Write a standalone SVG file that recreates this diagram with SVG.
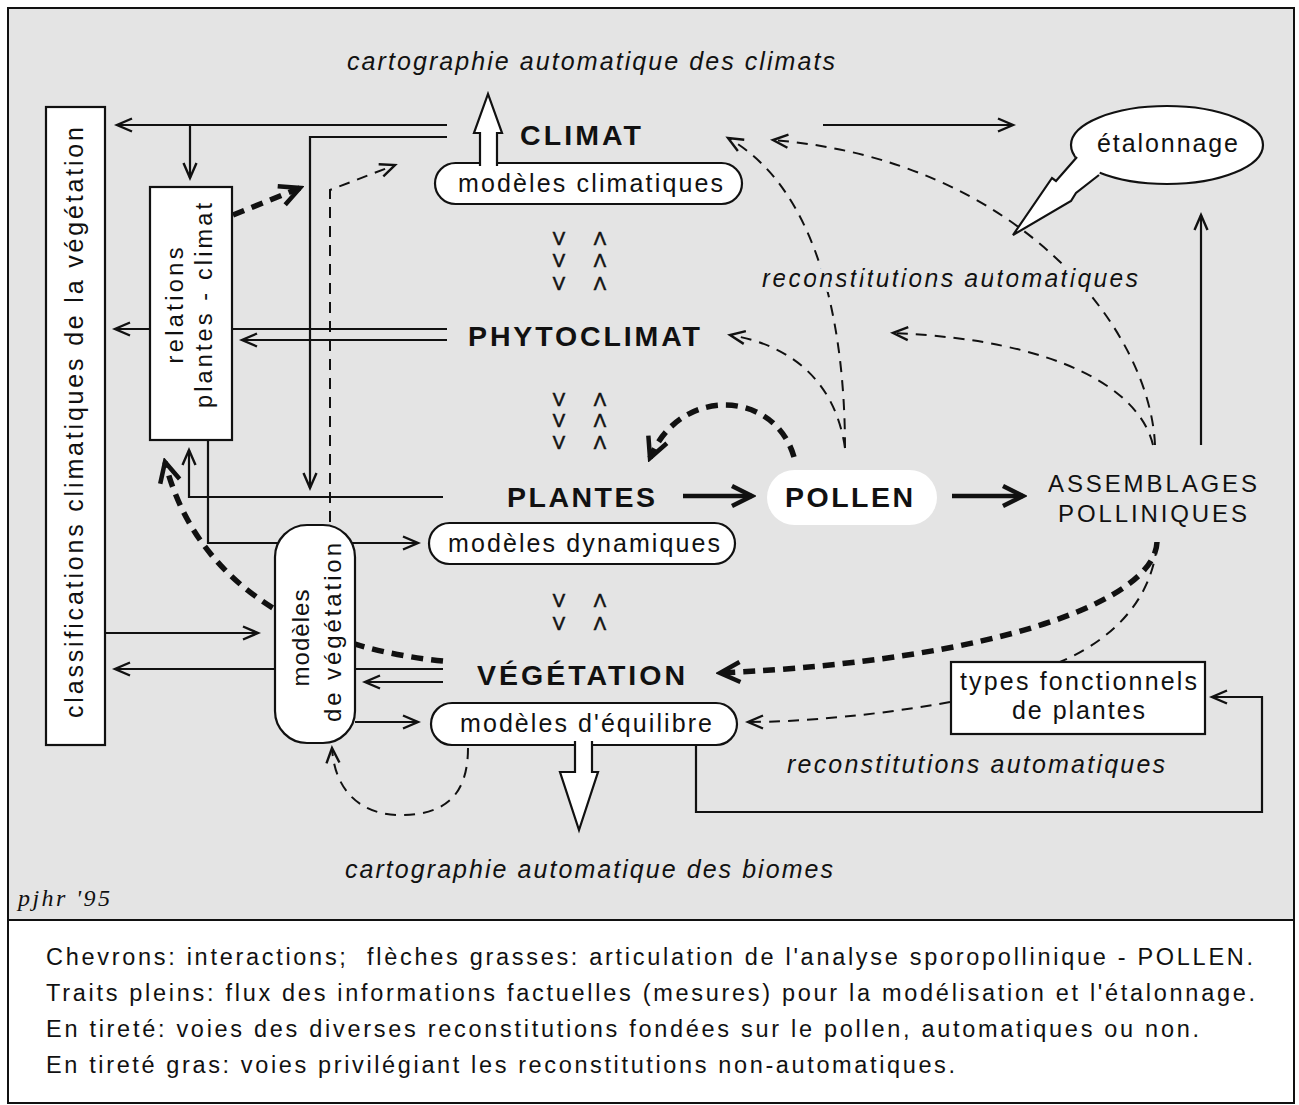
<svg xmlns="http://www.w3.org/2000/svg" width="1299" height="1105" viewBox="0 0 1299 1105">
<style>
 .t{font-family:"Liberation Sans",Arial,Helvetica,sans-serif;fill:#111}
 .b{font-weight:bold;font-size:28.5px}
 .r{font-size:25px}
 .i{font-style:italic;font-size:25px}
 .lg{font-size:23.5px}
 .ch{font-size:18.5px;stroke:#111;stroke-width:0.6}
 .box{fill:#fff;stroke:#111;stroke-width:2.2}
 .ln{fill:none;stroke:#111;stroke-width:2.2}
 .ds{fill:none;stroke:#111;stroke-width:2;stroke-dasharray:11 8}
 .hd{fill:none;stroke:#111;stroke-width:5.5;stroke-dasharray:12 8}
 .bd{fill:none;stroke:#111;stroke-width:4.5}
 .halo{paint-order:stroke;stroke:#e4e4e4;stroke-width:10px;stroke-linejoin:round}
</style>
<defs>
 <marker id="ah" viewBox="-20 -12 24 24" refX="0" refY="0" markerWidth="24" markerHeight="24" markerUnits="userSpaceOnUse" orient="auto"><path d="M-15,-6.5 L0,0 L-15,6.5" fill="none" stroke="#111" stroke-width="2.4"/></marker>
 <marker id="ahb" viewBox="-26 -14 30 28" refX="0" refY="0" markerWidth="30" markerHeight="28" markerUnits="userSpaceOnUse" orient="auto"><path d="M-20,-10 L0,0 L-20,10" fill="none" stroke="#111" stroke-width="4.5"/></marker>
</defs>

<!-- frame -->
<rect x="8" y="8" width="1286" height="912" fill="#e4e4e4"/>
<rect x="8" y="920" width="1286" height="183" fill="#fff"/>
<rect x="8" y="8" width="1286" height="1095" fill="none" stroke="#111" stroke-width="2"/>
<line x1="8" y1="920" x2="1294" y2="920" stroke="#111" stroke-width="2"/>

<g id="connectors">
 <!-- solid -->
 <path class="ln" d="M447,125 L117,125" marker-end="url(#ah)"/>
 <path class="ln" d="M190,125 L190,178" marker-end="url(#ah)"/>
 <path class="ln" d="M447,137 L310,137 L310,488" marker-end="url(#ah)"/>
 <path class="ln" d="M447,329 L232,329"/>
 <path class="ln" d="M150,329 L115,329" marker-end="url(#ah)"/>
 <path class="ln" d="M447,340 L242,340" marker-end="url(#ah)"/>
 <path class="ln" d="M443,497 L189,497 L189,450" marker-end="url(#ah)"/>
 <path class="ln" d="M208,440 L208,543 L418,543" marker-end="url(#ah)"/>
 <path class="ln" d="M105,633 L258,633" marker-end="url(#ah)"/>
 <path class="ln" d="M443,669 L115,669" marker-end="url(#ah)"/>
 <path class="ln" d="M443,682 L365,682" marker-end="url(#ah)"/>
 <path class="ln" d="M355,722 L418,722" marker-end="url(#ah)"/>
 <path class="ln" d="M823,125 L1013,125" marker-end="url(#ah)"/>
 <path class="ln" d="M1201,445 L1201,215" marker-end="url(#ah)"/>
 <path class="ln" d="M696,745 L696,812 L1262,812 L1262,697 L1212,697" marker-end="url(#ah)"/>
 <!-- bold solid -->
 <path class="bd" d="M683,496 L752,496" marker-end="url(#ahb)"/>
 <path class="bd" d="M952,496 L1023,496" marker-end="url(#ahb)"/>
 <!-- thin dashed -->
 <path class="ds" d="M330,522 L330,190 L395,165" marker-end="url(#ah)"/>
 <path class="ds" d="M845,448 C845,330 820,190 728,138" marker-end="url(#ah)"/>
 <path class="ds" d="M845,448 C835,380 790,345 730,335" marker-end="url(#ah)"/>
 <path class="ds" d="M1155,445 C1150,330 1020,160 773,140" marker-end="url(#ah)"/>
 <path class="ds" d="M1153,445 C1140,390 1060,340 893,333" marker-end="url(#ah)"/>
 <path class="ds" d="M1157,545 C1150,610 1100,645 1060,662"/>
 <path class="ds" d="M950,702 C880,715 800,722 748,722" marker-end="url(#ah)"/>
 <path class="ds" d="M468,748 C468,800 440,815 400,815 C365,815 335,795 332,748" marker-end="url(#ah)"/>
 <!-- heavy dashed -->
 <path class="hd" d="M233,215 L300,188" marker-end="url(#ahb)"/>
 <path class="hd" d="M794,457 C775,390 680,385 650,458" marker-end="url(#ahb)"/>
 <path class="hd" d="M443,661 C330,650 200,600 165,462" marker-end="url(#ahb)"/>
 <path class="hd" d="M1157,542 C1155,600 1000,660 720,673" marker-end="url(#ahb)"/>
</g>

<g id="node-classifications">
 <rect class="box" x="46" y="107" width="59" height="638"/>
 <text class="t r" style="font-size:25px" transform="translate(83,422.5) rotate(-90)" text-anchor="middle" textLength="591" lengthAdjust="spacing">classifications climatiques de la végétation</text>
</g>

<g id="node-relations">
 <rect class="box" x="150" y="187" width="82" height="253"/>
 <text class="t r" style="font-size:23.5px" transform="translate(183,305.5) rotate(-90)" text-anchor="middle" textLength="116" lengthAdjust="spacing">relations</text>
 <text class="t r" style="font-size:23.5px" transform="translate(212,305.5) rotate(-90)" text-anchor="middle" textLength="205" lengthAdjust="spacing">plantes - climat</text>
</g>

<g id="node-modeles-vegetation">
 <rect class="box" x="275" y="525" width="80" height="218" rx="32"/>
 <text class="t r" style="font-size:24px" transform="translate(309,638) rotate(-90)" text-anchor="middle" textLength="97" lengthAdjust="spacing">modèles</text>
 <text class="t r" style="font-size:24px" transform="translate(341,632.5) rotate(-90)" text-anchor="middle" textLength="179" lengthAdjust="spacing">de végétation</text>
</g>

<g id="node-climat">
 <text class="t i" x="591" y="70" text-anchor="middle" textLength="488" lengthAdjust="spacing">cartographie automatique des climats</text>
 <text class="t b" x="580.5" y="145" text-anchor="middle" textLength="121" lengthAdjust="spacing">CLIMAT</text>
 <rect class="box" x="435" y="163" width="307" height="41" rx="20.5"/>
 <path d="M480,166 L480,133 L474,133 L488,94 L502,133 L497,133 L497,166" fill="#fff" stroke="#111" stroke-width="2.2"/>
 <text class="t r" x="590.5" y="192" text-anchor="middle" textLength="265" lengthAdjust="spacing">modèles climatiques</text>
</g>

<g id="chevrons" class="t ch" text-anchor="middle">
 <text x="559" y="245">V</text><text x="600" y="245">Λ</text>
 <text x="559" y="267">V</text><text x="600" y="267">Λ</text>
 <text x="559" y="290">V</text><text x="600" y="290">Λ</text>
 <text x="559" y="406">V</text><text x="600" y="406">Λ</text>
 <text x="559" y="427">V</text><text x="600" y="427">Λ</text>
 <text x="559" y="449">V</text><text x="600" y="449">Λ</text>
 <text x="559" y="607">V</text><text x="600" y="607">Λ</text>
 <text x="559" y="630">V</text><text x="600" y="630">Λ</text>
</g>

<g id="node-phytoclimat">
 <text class="t b" x="584" y="346" text-anchor="middle" textLength="232" lengthAdjust="spacing">PHYTOCLIMAT</text>
</g>

<g id="node-plantes">
 <text class="t b" x="581" y="507" text-anchor="middle" textLength="148" lengthAdjust="spacing">PLANTES</text>
 <rect class="box" x="429" y="523" width="306" height="41" rx="20.5"/>
 <text class="t r" x="584" y="552" text-anchor="middle" textLength="272" lengthAdjust="spacing">modèles dynamiques</text>
</g>

<g id="node-pollen">
 <rect x="767" y="470" width="170" height="55" rx="27.5" fill="#fff"/>
 <text class="t b" x="849" y="507" text-anchor="middle" textLength="128" lengthAdjust="spacing">POLLEN</text>
</g>

<g id="node-assemblages">
 <text class="t" style="font-size:24px" x="1152.5" y="492" text-anchor="middle" textLength="209" lengthAdjust="spacing">ASSEMBLAGES</text>
 <text class="t" style="font-size:24px" x="1152.5" y="522" text-anchor="middle" textLength="189" lengthAdjust="spacing">POLLINIQUES</text>
</g>

<g id="node-etalonnage">
 <ellipse cx="1167" cy="145" rx="96" ry="39" fill="#fff" stroke="#111" stroke-width="2.2"/>
 <path d="M1074,148 L1076,157 L1056,181 L1052,178 L1013,235 L1071,201 L1076,193 L1099,175 L1102,165 Z" fill="#fff"/>
 <path d="M1077,157 L1056,181 L1052,178 L1013,235 L1071,201 L1076,193 L1099,175" fill="none" stroke="#111" stroke-width="2.2"/>
 <text class="t r" x="1167.5" y="152" text-anchor="middle" textLength="141" lengthAdjust="spacing">étalonnage</text>
</g>

<text class="t i halo" x="950" y="287" text-anchor="middle" textLength="376" lengthAdjust="spacing">reconstitutions automatiques</text>

<g id="node-vegetation">
 <text class="t b" x="581" y="685" text-anchor="middle" textLength="208" lengthAdjust="spacing">VÉGÉTATION</text>
 <rect class="box" x="431" y="703" width="306" height="42" rx="21"/>
 <path d="M575,741 L575,772 L560,772 L579,830 L598,772 L592,772 L592,741" fill="#fff" stroke="#111" stroke-width="2.2"/>
 <text class="t r" x="586" y="732" text-anchor="middle" textLength="252" lengthAdjust="spacing">modèles d'équilibre</text>
 <text class="t i" x="589" y="878" text-anchor="middle" textLength="488" lengthAdjust="spacing">cartographie automatique des biomes</text>
</g>

<g id="node-types">
 <rect class="box" x="951" y="662" width="254" height="72"/>
 <text class="t r" x="1078.5" y="690" text-anchor="middle" textLength="237" lengthAdjust="spacing">types fonctionnels</text>
 <text class="t r" x="1078.5" y="719" text-anchor="middle" textLength="133" lengthAdjust="spacing">de plantes</text>
</g>

<text class="t i" x="976" y="773" text-anchor="middle" textLength="378" lengthAdjust="spacing">reconstitutions automatiques</text>

<text x="18" y="906" style="font-family:'Liberation Serif','Times New Roman',serif;font-style:italic;font-size:24px;fill:#111" textLength="92" lengthAdjust="spacing">pjhr '95</text>

<g id="legend" class="t lg">
 <text x="46" y="965" xml:space="preserve" textLength="1207" lengthAdjust="spacing">Chevrons: interactions;  flèches grasses: articulation de l'analyse sporopollinique - POLLEN.</text>
 <text x="46" y="1001" textLength="1209" lengthAdjust="spacing">Traits pleins: flux des informations factuelles (mesures) pour la modélisation et l'étalonnage.</text>
 <text x="46" y="1037" textLength="1153" lengthAdjust="spacing">En tireté: voies des diverses reconstitutions fondées sur le pollen, automatiques ou non.</text>
 <text x="46" y="1073" textLength="909" lengthAdjust="spacing">En tireté gras: voies privilégiant les reconstitutions non-automatiques.</text>
</g>
</svg>
